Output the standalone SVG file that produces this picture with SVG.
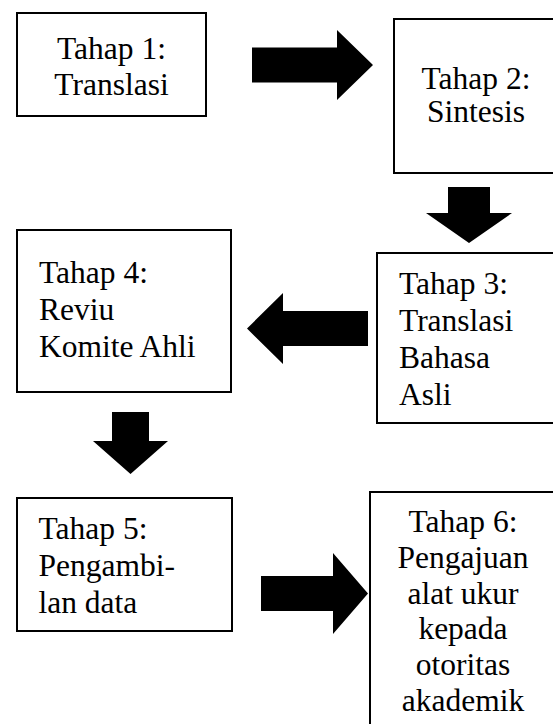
<svg xmlns="http://www.w3.org/2000/svg" width="553" height="724" viewBox="0 0 553 724">
  <style>
    .box { fill: #ffffff; stroke: #000000; stroke-width: 2; }
    .lbl { font-family: 'Liberation Serif', 'Times New Roman', serif; font-size: 31.5px; fill: #000000; }
    .mid { text-anchor: middle; }
    .arrow { fill: #000000; stroke: none; }
  </style>
  <rect x="0" y="0" width="553" height="724" fill="#ffffff"/>

  <g id="node-tahap1">
    <rect class="box" x="17" y="13" width="189" height="103"/>
    <text class="lbl mid" x="111.5" y="59">Tahap 1:</text>
    <text class="lbl mid" x="111.5" y="95">Translasi</text>
  </g>

  <g id="node-tahap2">
    <rect class="box" x="394" y="19" width="170" height="154"/>
    <text class="lbl mid" x="476" y="89">Tahap 2:</text>
    <text class="lbl mid" x="476" y="122">Sintesis</text>
  </g>

  <g id="node-tahap3">
    <rect class="box" x="377" y="253" width="190" height="170"/>
    <text class="lbl" x="399" y="294">Tahap 3:</text>
    <text class="lbl" x="399" y="331">Translasi</text>
    <text class="lbl" x="399" y="368">Bahasa</text>
    <text class="lbl" x="399" y="405">Asli</text>
  </g>

  <g id="node-tahap4">
    <rect class="box" x="17" y="230" width="214" height="162"/>
    <text class="lbl" x="39" y="283">Tahap 4:</text>
    <text class="lbl" x="39" y="320">Reviu</text>
    <text class="lbl" x="39" y="357">Komite Ahli</text>
  </g>

  <g id="node-tahap5">
    <rect class="box" x="17" y="498" width="215" height="133"/>
    <text class="lbl" x="38.5" y="539">Tahap 5:</text>
    <text class="lbl" x="38.5" y="576">Pengambi-</text>
    <text class="lbl" x="38.5" y="612.5">lan data</text>
  </g>

  <g id="node-tahap6">
    <rect class="box" x="370" y="492" width="200" height="250"/>
    <text class="lbl mid" x="463" y="532">Tahap 6:</text>
    <text class="lbl mid" x="463" y="567.8">Pengajuan</text>
    <text class="lbl mid" x="463" y="603.6">alat ukur</text>
    <text class="lbl mid" x="463" y="639.4">kepada</text>
    <text class="lbl mid" x="463" y="675.2">otoritas</text>
    <text class="lbl mid" x="463" y="711">akademik</text>
  </g>

  <g id="connectors">
    <polygon class="arrow" points="252,47.5 337,47.5 337,30 373,65 337,100 337,82.5 252,82.5"/>
    <polygon class="arrow" points="448,187 490,187 490,213 512,213 469,243 426,213 448,213"/>
    <polygon class="arrow" points="368,311 283,311 283,293 247,328.5 283,364 283,346 368,346"/>
    <polygon class="arrow" points="112,412 149,412 149,441 168,441 130.5,474 93,441 112,441"/>
    <polygon class="arrow" points="261,576 333,576 333,553 368,593.5 333,634 333,611 261,611"/>
  </g>
</svg>
